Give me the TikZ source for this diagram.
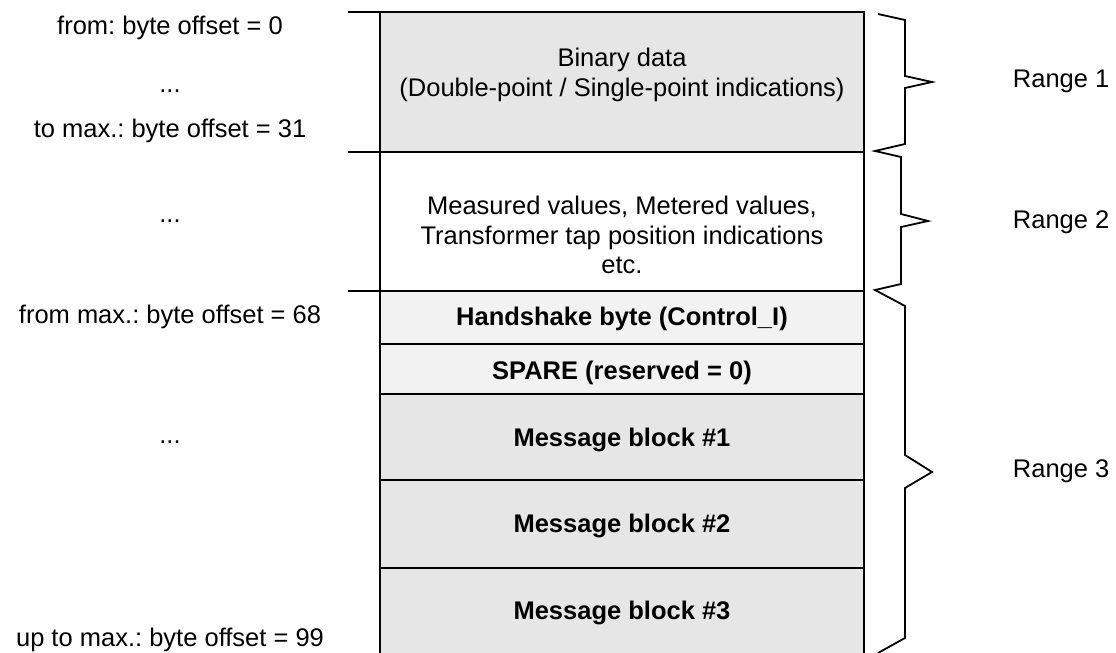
\documentclass[tikz,border=0pt]{standalone}
\usepackage{fontspec}
\setmainfont{Liberation Sans}
\frenchspacing
\definecolor{rowgray}{HTML}{E6E6E6}
\definecolor{rowlight}{HTML}{F2F2F2}
\begin{document}
\begin{tikzpicture}[x=1pt,y=-1pt,line width=1.8pt,line join=miter,
  txt/.style={font=\fontsize{25.5}{30}\selectfont,inner sep=0pt,anchor=base},
  btxt/.style={txt,font=\fontsize{25.5}{30}\selectfont\bfseries},
  rng/.style={txt,anchor=base west},
  row/.style={draw=black,inner sep=0pt,outer sep=0pt,minimum width=484pt}]
\useasboundingbox (0,0) rectangle (1116,653);
% rows
\node[row,fill=rowgray,minimum height=140pt] (r1) at (622,82) {};
\node[row,fill=white,minimum height=139pt] (r2) at (622,221.5) {};
\node[row,fill=rowlight,minimum height=53pt] (r3) at (622,317.5) {};
\node[row,fill=rowlight,minimum height=50pt] (r4) at (622,369) {};
\node[row,fill=rowgray,minimum height=86pt] (r5) at (622,437) {};
\node[row,fill=rowgray,minimum height=88pt] (r6) at (622,524) {};
\node[row,fill=rowgray,minimum height=102pt] (r7) at (622,619) {};
% extension lines
\coordinate (e1) at (348,12);
\coordinate (e2) at (348,152);
\coordinate (e3) at (348,291);
\draw (e1) -- (r1.north west);
\draw (e2) -- (r2.north west);
\draw (e3) -- (r3.north west);
% row texts
\node[txt] (t1a) at (622,66) {Binary data};
\node[txt] (t1b) at (622,96) {(Double-point / Single-point indications)};
\node[txt] (t2a) at (622,214.5) {Measured values, Metered values,};
\node[txt] (t2b) at (622,244) {Transformer tap position indications};
\node[txt] (t2c) at (622,273) {etc.};
\node[btxt] (t3) at (622,325) {Handshake byte (Control\_I)};
\node[btxt] (t4) at (622,379) {SPARE (reserved = 0)};
\node[btxt] (t5) at (622,446) {Message block \#1};
\node[btxt] (t6) at (622,532.5) {Message block \#2};
\node[btxt] (t7) at (622,619) {Message block \#3};
% left labels
\node[txt] (l1) at (170,34) {from: byte offset = 0};
\node[txt] (l2) at (170,92) {...};
\node[txt] (l3) at (170,137.5) {to max.: byte offset = 31};
\node[txt] (l4) at (170,222) {...};
\node[txt] (l5) at (170,323) {from max.: byte offset = 68};
\node[txt] (l6) at (170,443) {...};
\node[txt] (l7) at (170,646) {up to max.: byte offset = 99};
% braces
\draw (878,14) -- (905,20) -- (905,76) -- (932,82) -- (905,88) -- (905,144) -- (875,151)
      -- (901,157) -- (901,214) -- (928,221) -- (901,227) -- (901,284) -- (875,290)
      -- (905,306) -- (905,455) -- (932,472) -- (905,488) -- (905,638) -- (878,653);
% range labels
\node[rng] (g1) at (1012,87) {Range 1};
\node[rng] (g2) at (1012,228) {Range 2};
\node[rng] (g3) at (1012,477) {Range 3};
\end{tikzpicture}
\end{document}
